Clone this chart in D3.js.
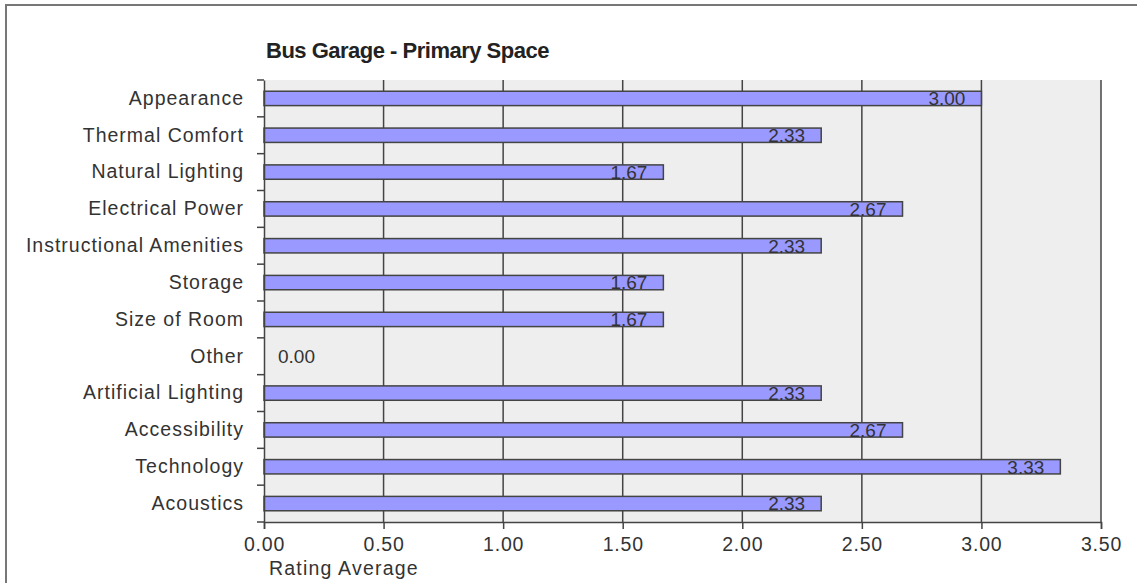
<!DOCTYPE html>
<html><head><meta charset="utf-8">
<script src="https://cdn.jsdelivr.net/npm/d3@7"></script>
<style>
html,body{margin:0;padding:0;background:#fff;}
text{font-family:"Liberation Sans",Arial,sans-serif;}
</style></head>
<body><svg id="c" width="1137" height="583"></svg>
<script>
const title = "Bus Garage - Primary Space";
const categories = ["Appearance","Thermal Comfort","Natural Lighting","Electrical Power","Instructional Amenities","Storage","Size of Room","Other","Artificial Lighting","Accessibility","Technology","Acoustics"];
const values = [3.00,2.33,1.67,2.67,2.33,1.67,1.67,0.00,2.33,2.67,3.33,2.33];
const xTicks = [0,0.5,1,1.5,2,2.5,3,3.5];
const xLabel = "Rating Average";

const svg = d3.select("#c");
const m = {left:264, top:80, right:1101, bottom:522};

// outer frame
svg.append("rect").attr("x",6).attr("y",5).attr("width",1150).attr("height",600)
  .attr("fill","none").attr("stroke","#777").attr("stroke-width",2);

const x = d3.scaleLinear().domain([0,3.5]).range([m.left,m.right]);
const y = d3.scaleBand().domain(categories).range([m.top,m.bottom]).paddingInner(0.61).paddingOuter(0.305);

// plot background
svg.append("rect").attr("x",m.left).attr("y",m.top).attr("width",m.right-m.left).attr("height",m.bottom-m.top).attr("fill","#eeeeee");

// gridlines
svg.append("g").selectAll("line").data(xTicks.slice(1)).join("line")
  .attr("x1",d=>x(d)).attr("x2",d=>x(d)).attr("y1",m.top).attr("y2",m.bottom)
  .attr("stroke","#444").attr("stroke-width",1.5);

// bars
const data = categories.map((c,i)=>({c, v:values[i]}));
svg.append("g").selectAll("rect").data(data.filter(d=>d.v>0)).join("rect")
  .attr("x",x(0)).attr("y",d=>y(d.c)).attr("width",d=>x(d.v)-x(0)).attr("height",y.bandwidth())
  .attr("fill","#9999ff").attr("stroke","#444").attr("stroke-width",1.5);

// value labels
svg.append("g").selectAll("text").data(data).join("text")
  .attr("x",d=> d.v>0 ? x(d.v)-16 : x(0)+14)
  .attr("y",d=>y(d.c)+y.bandwidth()/2)
  .attr("dy","0.36em")
  .attr("text-anchor",d=> d.v>0 ? "end" : "start")
  .attr("font-size",19).attr("fill","#333")
  .text(d=>d3.format(".2f")(d.v));

// y axis
const yAxis = svg.append("g").attr("transform",`translate(${m.left},0)`)
  .call(d3.axisLeft(y).tickSize(0).tickPadding(20));
yAxis.select(".domain").attr("stroke","#444").attr("stroke-width",1.5);
yAxis.selectAll("text").attr("font-size",19.5).attr("fill","#333").attr("font-family","Liberation Sans, Arial, sans-serif").attr("letter-spacing","1px");
// boundary ticks
const bounds = d3.range(categories.length+1).map(i=>m.top + i*(m.bottom-m.top)/categories.length);
svg.append("g").selectAll("line").data(bounds).join("line")
  .attr("x1",m.left-7).attr("x2",m.left).attr("y1",d=>d).attr("y2",d=>d)
  .attr("stroke","#444").attr("stroke-width",1.5);

// x axis
const xAxis = svg.append("g").attr("transform",`translate(0,${m.bottom})`)
  .call(d3.axisBottom(x).tickValues(xTicks).tickFormat(d3.format(".2f")).tickSize(7).tickPadding(8));
xAxis.select(".domain").attr("stroke","#444").attr("stroke-width",1.5);
xAxis.selectAll(".tick line").attr("stroke","#444").attr("stroke-width",1.5);
xAxis.selectAll("text").attr("font-size",19.5).attr("fill","#333").attr("font-family","Liberation Sans, Arial, sans-serif").attr("letter-spacing","0.8px");

svg.append("text").attr("x",269).attr("y",575).attr("font-size",19.5).attr("letter-spacing","1.2px").attr("fill","#333").text(xLabel);

svg.append("text").attr("x",266).attr("y",58).attr("font-size",22).attr("font-weight","bold")
  .attr("letter-spacing","-0.5px").attr("fill","#222").text(title);
</script></body></html>
